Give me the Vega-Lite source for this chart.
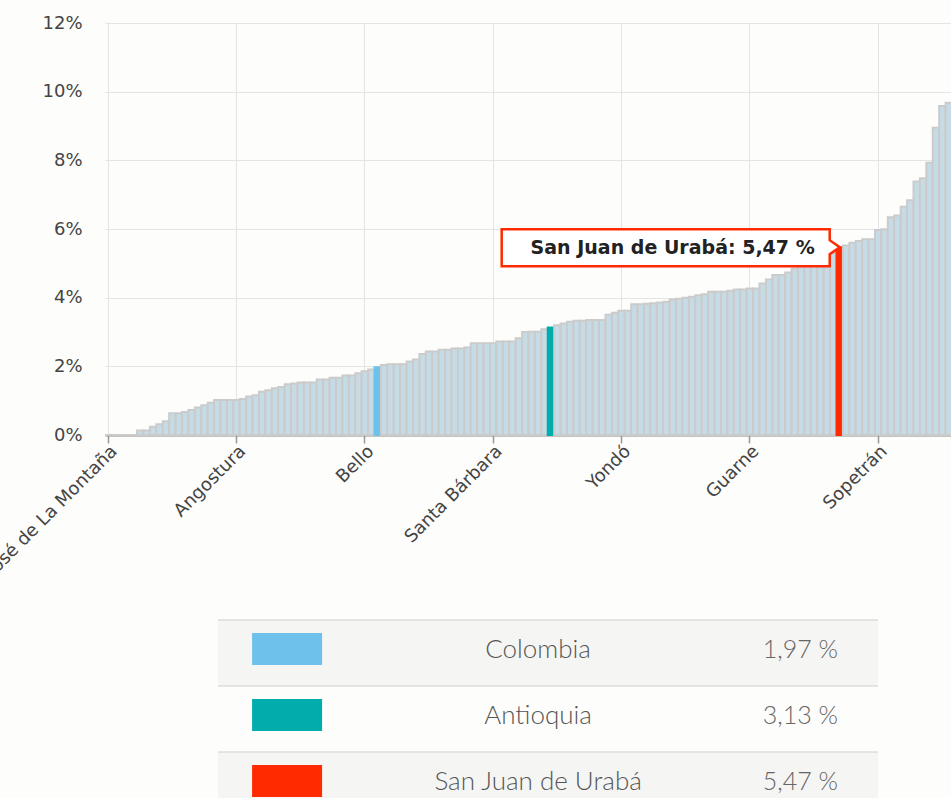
{
  "$schema": "https://vega.github.io/schema/vega-lite/v6.json",
  "autosize": {"type": "none"},
  "padding": {"left": 105, "top": 23, "right": 846, "bottom": 775},
  "background": "#fdfdfb",
  "config": {
    "view": {"stroke": null},
    "font": "DejaVu Sans",
    "axis": {"labelFont": "DejaVu Sans", "gridColor": "#e4e4e4", "gridWidth": 1}
  },
  "datasets": {
    "munis": [
      {"name": "San José de La Montaña", "value": 0},
      {"name": "Medellín", "value": 0},
      {"name": "Abejorral", "value": 0},
      {"name": "Abriaquí", "value": 0},
      {"name": "Alejandría", "value": 0},
      {"name": "Amagá", "value": 0.13},
      {"name": "Amalfi", "value": 0.13},
      {"name": "Andes", "value": 0.24},
      {"name": "Angelópolis", "value": 0.31},
      {"name": "Anorí", "value": 0.40},
      {"name": "Santa Fe de Antioquia", "value": 0.63},
      {"name": "Anzá", "value": 0.63},
      {"name": "Apartadó", "value": 0.67},
      {"name": "Arboletes", "value": 0.73},
      {"name": "Argelia", "value": 0.80},
      {"name": "Armenia", "value": 0.87},
      {"name": "Barbosa", "value": 0.94},
      {"name": "Belmira", "value": 1.02},
      {"name": "Betania", "value": 1.02},
      {"name": "Betulia", "value": 1.02},
      {"name": "Angostura", "value": 1.02},
      {"name": "Ciudad Bolívar", "value": 1.05},
      {"name": "Briceño", "value": 1.12},
      {"name": "Buriticá", "value": 1.16},
      {"name": "Cáceres", "value": 1.26},
      {"name": "Caicedo", "value": 1.30},
      {"name": "Caldas", "value": 1.36},
      {"name": "Campamento", "value": 1.40},
      {"name": "Cañasgordas", "value": 1.48},
      {"name": "Caracolí", "value": 1.50},
      {"name": "Caramanta", "value": 1.53},
      {"name": "Carepa", "value": 1.53},
      {"name": "El Carmen de Viboral", "value": 1.53},
      {"name": "Carolina del Príncipe", "value": 1.62},
      {"name": "Caucasia", "value": 1.62},
      {"name": "Chigorodó", "value": 1.67},
      {"name": "Cisneros", "value": 1.67},
      {"name": "Cocorná", "value": 1.73},
      {"name": "Concepción", "value": 1.73},
      {"name": "Concordia", "value": 1.80},
      {"name": "Bello", "value": 1.86},
      {"name": "Copacabana", "value": 1.91},
      {"name": "Colombia", "value": 1.97},
      {"name": "Dabeiba", "value": 2.04},
      {"name": "Donmatías", "value": 2.06},
      {"name": "Ebéjico", "value": 2.06},
      {"name": "El Bagre", "value": 2.06},
      {"name": "Entrerríos", "value": 2.14},
      {"name": "Envigado", "value": 2.20},
      {"name": "Fredonia", "value": 2.36},
      {"name": "Frontino", "value": 2.43},
      {"name": "Giraldo", "value": 2.43},
      {"name": "Girardota", "value": 2.48},
      {"name": "Gómez Plata", "value": 2.48},
      {"name": "Granada", "value": 2.52},
      {"name": "Guadalupe", "value": 2.52},
      {"name": "Guatapé", "value": 2.55},
      {"name": "Heliconia", "value": 2.67},
      {"name": "Hispania", "value": 2.67},
      {"name": "Itagüí", "value": 2.67},
      {"name": "Santa Bárbara", "value": 2.67},
      {"name": "Ituango", "value": 2.72},
      {"name": "Jardín", "value": 2.72},
      {"name": "Jericó", "value": 2.72},
      {"name": "La Ceja", "value": 2.82},
      {"name": "La Estrella", "value": 3.00},
      {"name": "La Pintada", "value": 3.01},
      {"name": "La Unión", "value": 3.01},
      {"name": "Liborina", "value": 3.08},
      {"name": "Antioquia", "value": 3.13},
      {"name": "Maceo", "value": 3.20},
      {"name": "Marinilla", "value": 3.25},
      {"name": "Montebello", "value": 3.30},
      {"name": "Murindó", "value": 3.33},
      {"name": "Mutatá", "value": 3.33},
      {"name": "Nariño", "value": 3.35},
      {"name": "Necoclí", "value": 3.35},
      {"name": "Nechí", "value": 3.35},
      {"name": "Olaya", "value": 3.50},
      {"name": "Peñol", "value": 3.56},
      {"name": "Yondó", "value": 3.62},
      {"name": "Peque", "value": 3.62},
      {"name": "Pueblorrico", "value": 3.81},
      {"name": "Puerto Berrío", "value": 3.81},
      {"name": "Puerto Nare", "value": 3.82},
      {"name": "Puerto Triunfo", "value": 3.84},
      {"name": "Remedios", "value": 3.86},
      {"name": "Retiro", "value": 3.88},
      {"name": "Rionegro", "value": 3.95},
      {"name": "Sabanalarga", "value": 3.97},
      {"name": "Sabaneta", "value": 4.00},
      {"name": "Salgar", "value": 4.03},
      {"name": "San Andrés de Cuerquia", "value": 4.07},
      {"name": "San Carlos", "value": 4.10},
      {"name": "San Francisco", "value": 4.17},
      {"name": "San Jerónimo", "value": 4.17},
      {"name": "San Luis", "value": 4.17},
      {"name": "San Pedro de Los Milagros", "value": 4.20},
      {"name": "San Pedro de Urabá", "value": 4.24},
      {"name": "San Rafael", "value": 4.24},
      {"name": "Guarne", "value": 4.27},
      {"name": "San Roque", "value": 4.27},
      {"name": "San Vicente Ferrer", "value": 4.41},
      {"name": "Santa Rosa de Osos", "value": 4.53},
      {"name": "Santo Domingo", "value": 4.66},
      {"name": "El Santuario", "value": 4.66},
      {"name": "Segovia", "value": 4.73},
      {"name": "Sonsón", "value": 4.85},
      {"name": "Támesis", "value": 4.95},
      {"name": "Tarazá", "value": 5.00},
      {"name": "Tarso", "value": 5.05},
      {"name": "Titiribí", "value": 5.12},
      {"name": "Toledo", "value": 5.20},
      {"name": "Turbo", "value": 5.30},
      {"name": "San Juan de Urabá", "value": 5.47},
      {"name": "Uramita", "value": 5.52},
      {"name": "Urrao", "value": 5.60},
      {"name": "Valdivia", "value": 5.65},
      {"name": "Valparaíso", "value": 5.70},
      {"name": "Vegachí", "value": 5.70},
      {"name": "Sopetrán", "value": 5.97},
      {"name": "Venecia", "value": 5.99},
      {"name": "Vigía del Fuerte", "value": 6.34},
      {"name": "Yalí", "value": 6.39},
      {"name": "Yarumal", "value": 6.65},
      {"name": "Yolombó", "value": 6.84},
      {"name": "Zaragoza", "value": 7.38},
      {"name": "Valle de Aburrá", "value": 7.48},
      {"name": "Oriente", "value": 7.93},
      {"name": "Urabá", "value": 8.95},
      {"name": "Norte", "value": 9.58},
      {"name": "Nordeste", "value": 9.68}
    ]
  },
  "bounds": "flush",
  "spacing": 185,
  "vconcat": [
    {
      "width": 847,
      "height": 412,
      "data": {"name": "munis"},
      "layer": [
        {
          "mark": {"type": "bar", "strokeWidth": 2},
          "encoding": {
            "x": {
              "field": "name", "type": "nominal", "sort": null,
              "scale": {"paddingInner": 0, "paddingOuter": 0},
              "axis": {
                "values": ["San José de La Montaña", "Angostura", "Bello", "Santa Bárbara", "Yondó", "Guarne", "Sopetrán"],
                "title": null, "grid": true, "labelAngle": -45, "labelFont": "DejaVu Sans", "labelFontSize": 18, "labelColor": "#444",
                "labelPadding": -1, "labelLimit": 500, "tickColor": "#999", "tickSize": 8, "tickWidth": 1.5,
                "domainColor": "#8a8a8a", "domainWidth": 2, "labelOverlap": false
              }
            },
            "y": {
              "field": "value", "type": "quantitative",
              "scale": {"domain": [0, 12]},
              "axis": {
                "values": [0, 2, 4, 6, 8, 10, 12], "labelExpr": "datum.value + '%'",
                "title": null, "domain": false, "ticks": false, "labelPadding": 23,
                "labelFont": "DejaVu Sans", "labelFontSize": 18, "labelColor": "#444"
              }
            },
            "fill": {
              "condition": [
                {"test": "datum.name === 'Colombia'", "value": "#6ec1eb"},
                {"test": "datum.name === 'Antioquia'", "value": "#00acac"},
                {"test": "datum.name === 'San Juan de Urabá'", "value": "#ff2a00"}
              ],
              "value": "#c5dce7"
            },
            "stroke": {
              "condition": [
                {"test": "datum.name === 'Colombia'", "value": "#6ec1eb"},
                {"test": "datum.name === 'Antioquia'", "value": "#00acac"},
                {"test": "datum.name === 'San Juan de Urabá'", "value": "#ff2a00"}
              ],
              "value": "#cbcbcb"
            }
          }
        },
        {
          "transform": [{"filter": "datum.name === 'San Juan de Urabá'"}],
          "mark": {
            "type": "point",
            "shape": "M-0.1,-0.18L-3.38,-0.18L-3.38,0.19L-0.1,0.19L-0.1,0.07L0,0L-0.1,-0.07Z",
            "size": 40000, "filled": true, "fill": "#ffffff", "stroke": "#ff2a00",
            "strokeWidth": 2.5, "opacity": 1
          },
          "encoding": {
            "x": {"field": "name", "type": "nominal", "sort": null},
            "y": {"field": "value", "type": "quantitative"}
          }
        },
        {
          "transform": [
            {"filter": "datum.name === 'San Juan de Urabá'"},
            {"calculate": "datum.name + ': ' + replace(format(datum.value, '.2f'), '.', ',') + ' %'", "as": "tip"}
          ],
          "mark": {
            "type": "text", "align": "right", "baseline": "middle", "dx": -25, "dy": 1,
            "font": "DejaVu Sans", "fontWeight": "bold", "fontSize": 19, "color": "#222222"
          },
          "encoding": {
            "x": {"field": "name", "type": "nominal", "sort": null},
            "y": {"field": "value", "type": "quantitative"},
            "text": {"field": "tip"}
          }
        }
      ]
    },
    {
      "bounds": "flush",
      "spacing": 0,
      "hconcat": [
        {
          "width": 113,
          "height": 198,
          "data": {"values": []},
          "mark": "point",
          "encoding": {}
        },
        {
          "width": 660,
          "height": 198,
          "data": {"name": "munis"},
          "transform": [
            {"filter": {"field": "name", "oneOf": ["Colombia", "Antioquia", "San Juan de Urabá"]}},
            {"calculate": "replace(format(datum.value, '.2f'), '.', ',') + ' %'", "as": "label"}
          ],
          "encoding": {
            "y": {
              "field": "name", "type": "nominal",
              "sort": ["Colombia", "Antioquia", "San Juan de Urabá"],
              "scale": {"paddingInner": 0, "paddingOuter": 0},
              "axis": null
            }
          },
          "layer": [
            {
              "mark": {"type": "rect"},
              "encoding": {
                "fill": {
                  "condition": {"test": "datum.name === 'Antioquia'", "value": "#fdfdfb"},
                  "value": "#f5f5f3"
                }
              }
            },
            {
              "mark": {"type": "rule", "color": "#dcdcdc", "strokeWidth": 1.5},
              "encoding": {
                "y": {
                  "field": "name", "type": "nominal",
                  "sort": ["Colombia", "Antioquia", "San Juan de Urabá"],
                  "bandPosition": 0
                }
              }
            },
            {
              "mark": {
                "type": "point",
                "shape": "M-1,-0.457L1,-0.457L1,0.457L-1,0.457Z",
                "size": 4900, "filled": true, "opacity": 1, "strokeWidth": 0, "yOffset": -4
              },
              "encoding": {
                "x": {
                  "datum": "swatch", "type": "nominal", "bandPosition": 0.314,
                  "scale": {"type": "band", "domain": ["swatch", "name", "value"], "paddingInner": 0, "paddingOuter": 0},
                  "axis": null
                },
                "fill": {
                  "condition": [
                    {"test": "datum.name === 'Colombia'", "value": "#6ec1eb"},
                    {"test": "datum.name === 'Antioquia'", "value": "#00acac"}
                  ],
                  "value": "#ff2a00"
                }
              }
            },
            {
              "mark": {
                "type": "text", "align": "center", "baseline": "middle", "dy": -3,
                "font": "Lato", "fontWeight": 300, "fontSize": 26, "color": "#555555"
              },
              "encoding": {
                "x": {"datum": "name", "type": "nominal", "bandPosition": 0.455},
                "text": {"field": "name"}
              }
            },
            {
              "mark": {
                "type": "text", "align": "right", "baseline": "middle", "dy": -3,
                "font": "Lato", "fontWeight": 300, "fontSize": 25, "color": "#666666"
              },
              "encoding": {
                "x": {"datum": "value", "type": "nominal", "bandPosition": 0.818},
                "text": {"field": "label"}
              }
            }
          ]
        }
      ]
    }
  ]
}
